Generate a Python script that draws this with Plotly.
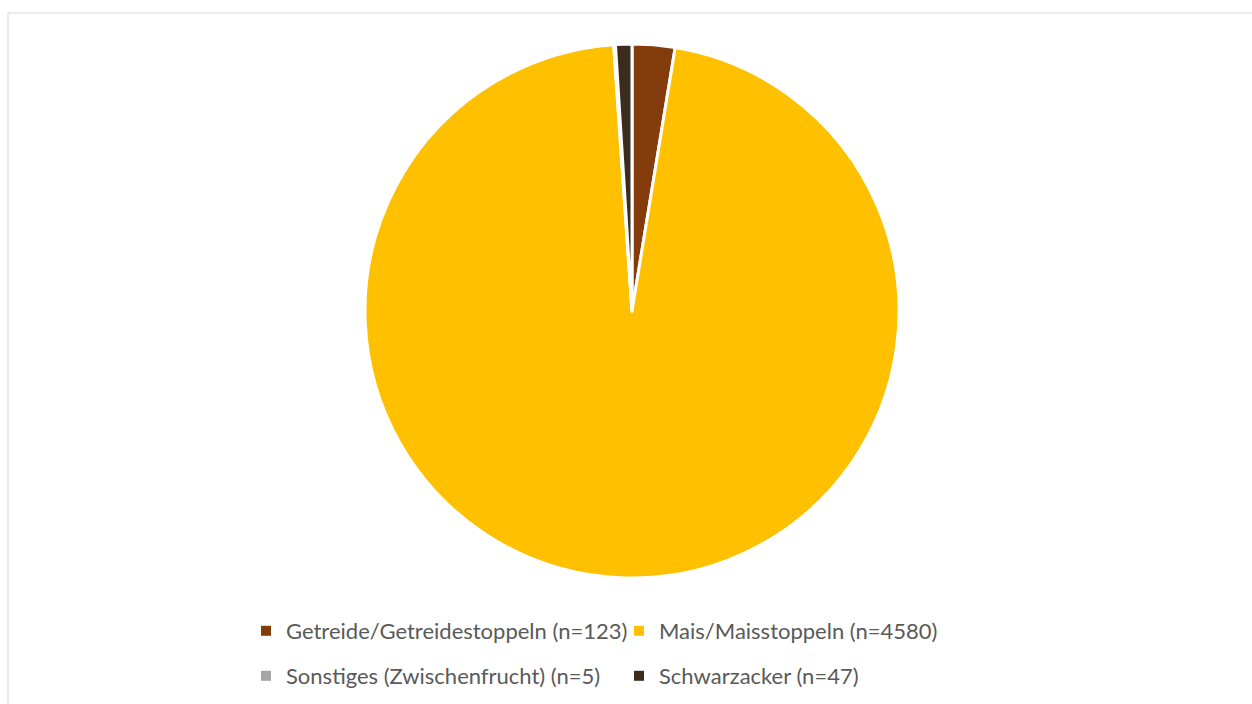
import plotly.graph_objects as go

categories = ["Getreide/Getreidestoppeln (n=123)", "Mais/Maisstoppeln (n=4580)",
              "Sonstiges (Zwischenfrucht) (n=5)", "Schwarzacker (n=47)"]
counts = [123, 4580, 5, 47]
colors = ["#843C0C", "#FFC000", "#A5A5A5", "#3B2C1E"]
legend_rows = ["legend", "legend", "legend2", "legend2"]

W, H = 1252, 704
fig = go.Figure()
fig.add_trace(go.Pie(
    labels=categories, values=counts, sort=False, direction="clockwise", rotation=0,
    marker=dict(colors=colors, line=dict(color="white", width=3)),
    textinfo="none", showlegend=False,
    domain=dict(x=[365 / W, 899 / W], y=[1 - 578 / H, 1 - 44 / H]),
))
for name, col, lg in zip(categories, colors, legend_rows):
    fig.add_trace(go.Scatter(x=[None], y=[None], mode="markers", name=name,
                             marker=dict(symbol="square", size=10, color=col),
                             legend=lg, showlegend=True, hoverinfo="skip"))

legend_style = dict(orientation="h", xanchor="left", yanchor="middle",
                    font=dict(family="Lato", size=22, color="#595959"),
                    entrywidth=328, entrywidthmode="pixels", bgcolor="rgba(0,0,0,0)")
fig.update_layout(
    width=W, height=H, margin=dict(l=0, r=0, t=0, b=0),
    paper_bgcolor="white", plot_bgcolor="white",
    xaxis=dict(visible=False), yaxis=dict(visible=False),
    legend=dict(x=246 / W, y=1 - 631 / H, **legend_style),
    legend2=dict(x=246 / W, y=1 - 676 / H, **legend_style),
    shapes=[dict(type="rect", xref="paper", yref="paper", x0=8 / W, x1=1.05,
                 y0=-0.05, y1=1 - 13 / H, line=dict(color="#D9D9D9", width=1))],
)
fig.write_html("out.html", config={"displayModeBar": False},
               post_script="document.body.style.margin='0';")
